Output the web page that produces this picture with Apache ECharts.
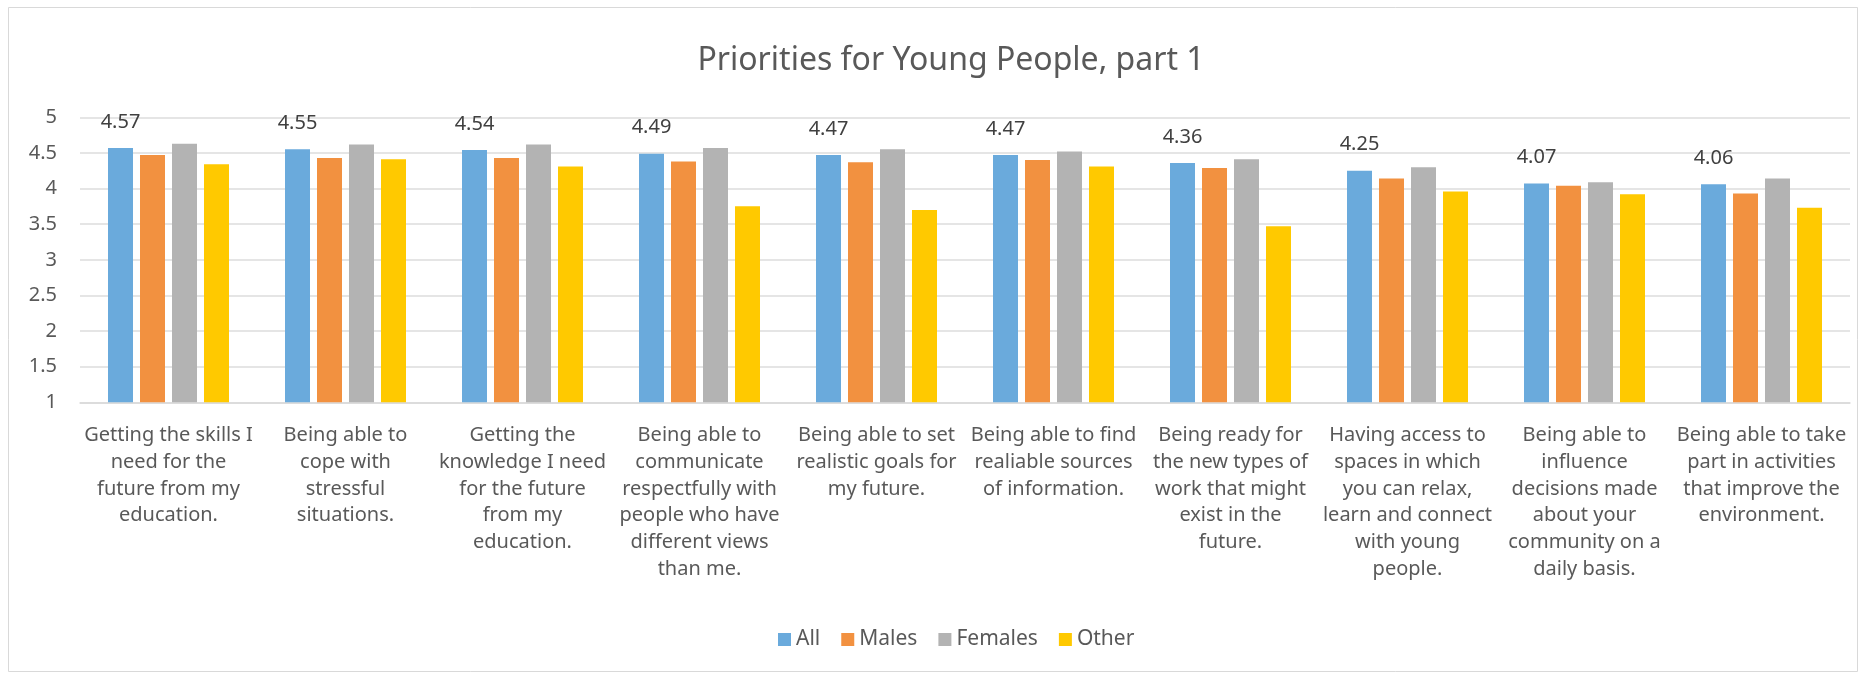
<!DOCTYPE html>
<html>
<head>
<meta charset="utf-8">
<title>Priorities for Young People, part 1</title>
<script src="https://cdn.jsdelivr.net/npm/echarts@6/dist/echarts.min.js"></script>
<style>
  html, body { margin: 0; padding: 0; background: #ffffff; }
  #chart { width: 1865px; height: 675px; }
</style>
</head>
<body>
<div id="chart"></div>
<script>
// Survey items, wrapped the way they appear under each group
const categories = [
  'Getting the skills I\nneed for the\nfuture from my\neducation.',
  'Being able to\ncope with\nstressful\nsituations.',
  'Getting the\nknowledge I need\nfor the future\nfrom my\neducation.',
  'Being able to\ncommunicate\nrespectfully with\npeople who have\ndifferent views\nthan me.',
  'Being able to set\nrealistic goals for\nmy future.',
  'Being able to find\nrealiable sources\nof information.',
  'Being ready for\nthe new types of\nwork that might\nexist in the\nfuture.',
  'Having access to\nspaces in which\nyou can relax,\nlearn and connect\nwith young\npeople.',
  'Being able to\ninfluence\ndecisions made\nabout your\ncommunity on a\ndaily basis.',
  'Being able to take\npart in activities\nthat improve the\nenvironment.'
];

// Mean priority score per group of respondents
const allValues     = [4.57, 4.55, 4.54, 4.49, 4.47, 4.47, 4.36, 4.25, 4.07, 4.06];
const malesValues   = [4.47, 4.43, 4.43, 4.38, 4.37, 4.40, 4.29, 4.14, 4.04, 3.93];
const femalesValues = [4.63, 4.62, 4.62, 4.57, 4.55, 4.52, 4.41, 4.30, 4.09, 4.14];
const otherValues   = [4.34, 4.41, 4.31, 3.75, 3.70, 4.31, 3.47, 3.96, 3.92, 3.73];

const seriesNames = ['All', 'Males', 'Females', 'Other'];
const seriesColors = ['#6aaadc', '#f29140', '#b3b3b3', '#ffc900'];

const FONT = '"Noto Sans", "Open Sans", sans-serif';
const TEXT = '#595959';

const chart = echarts.init(document.getElementById('chart'), null, { renderer: 'canvas' });

function barSeries(name, values, idx, withLabel) {
  return {
    name: name,
    type: 'bar',
    data: values,
    barWidth: 25,
    barGap: '28%',
    itemStyle: { color: seriesColors[idx] },
    label: withLabel ? {
      show: true,
      position: 'top',
      distance: 16,
      color: '#404040',
      fontFamily: FONT,
      fontSize: 20,
      formatter: p => p.value.toFixed(2)
    } : { show: false },
    emphasis: { disabled: true }
  };
}

chart.setOption({
  backgroundColor: '#ffffff',
  animation: false,
  color: seriesColors,
  title: {
    text: 'Priorities for Young People, part 1',
    left: 946,
    top: 40,
    textAlign: 'center',
    textStyle: { fontFamily: FONT, fontSize: 32, fontWeight: 'normal', color: TEXT }
  },
  legend: {
    data: seriesNames,
    left: 773,
    top: 624,
    itemWidth: 13,
    itemHeight: 13,
    itemGap: 21,
    icon: 'rect',
    textStyle: { fontFamily: FONT, fontSize: 21, color: TEXT }
  },
  grid: { left: 80, right: 15, top: 117.3, bottom: 272.7, containLabel: false },
  xAxis: {
    type: 'category',
    data: categories,
    axisLine: { show: true, lineStyle: { color: '#d9d9d9', width: 1.5 } },
    axisTick: { show: false },
    axisLabel: {
      interval: 0,
      margin: 20,
      fontFamily: FONT,
      fontSize: 20,
      lineHeight: 26.7,
      color: TEXT,
      align: 'center'
    }
  },
  yAxis: {
    type: 'value',
    min: 1,
    max: 5,
    interval: 0.5,
    axisLine: { show: false },
    axisTick: { show: false },
    splitLine: { lineStyle: { color: '#dcdcdc', width: 1.5 } },
    axisLabel: { margin: 23, fontFamily: FONT, fontSize: 20, color: TEXT }
  },
  graphic: [{
    type: 'rect',
    shape: { x: 8.5, y: 7.5, width: 1849, height: 664 },
    style: { fill: 'none', stroke: '#d9d9d9', lineWidth: 1 },
    silent: true,
    z: -1
  }],
  series: [
    barSeries('All', allValues, 0, true),
    barSeries('Males', malesValues, 1, false),
    barSeries('Females', femalesValues, 2, false),
    barSeries('Other', otherValues, 3, false)
  ]
});
</script>
</body>
</html>
